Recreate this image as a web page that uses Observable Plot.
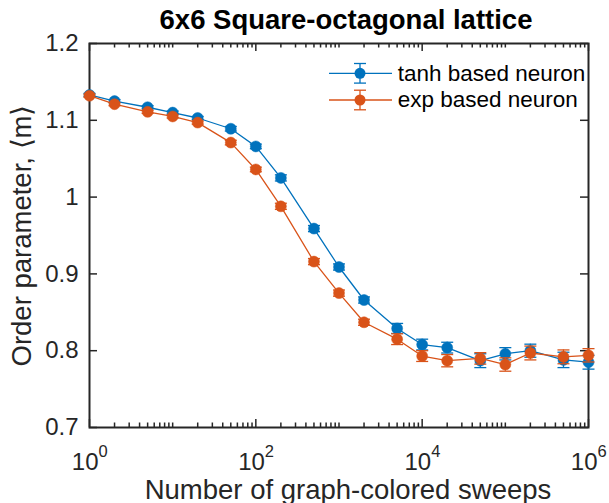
<!DOCTYPE html>
<html>
<head>
<meta charset="utf-8">
<script src="https://cdn.jsdelivr.net/npm/d3@7"></script>
<script src="https://cdn.jsdelivr.net/npm/@observablehq/plot@0.6"></script>
<style>
  body { margin: 0; background: #fff; font-family: "Liberation Sans", Arial, sans-serif; }
  #wrap { position: relative; width: 609px; height: 503px; overflow: hidden; }
  #wrap > svg { position: absolute; left: 0; top: 0; }
</style>
</head>
<body>
<div id="wrap"></div>
<script>
// ---------------- data ----------------
const sweeps = [1, 2, 5, 10, 20, 50, 100, 200, 500, 1000, 2000, 5000, 1e4, 2e4, 5e4, 1e5, 2e5, 5e5, 1e6];
const tanhM   = [1.133, 1.125, 1.117, 1.110, 1.103, 1.089, 1.066, 1.025, 0.959, 0.909, 0.866, 0.829, 0.808, 0.804, 0.787, 0.796, 0.800, 0.788, 0.785];
const tanhErr = [0.002, 0.002, 0.002, 0.002, 0.002, 0.003, 0.003, 0.004, 0.004, 0.004, 0.004, 0.0065, 0.007, 0.007, 0.009, 0.008, 0.0085, 0.010, 0.009];
const expM    = [1.132, 1.121, 1.111, 1.105, 1.097, 1.071, 1.036, 0.988, 0.916, 0.875, 0.837, 0.815, 0.793, 0.787, 0.790, 0.782, 0.797, 0.792, 0.794];
const expErr  = [0.002, 0.002, 0.002, 0.002, 0.002, 0.003, 0.003, 0.004, 0.004, 0.004, 0.004, 0.007, 0.007, 0.008, 0.0075, 0.0087, 0.009, 0.009, 0.0087];
const seriesNames = ["tanh based neuron", "exp based neuron"];
const colors = ["#0072BD", "#D95319"];
const yTicks = [0.7, 0.8, 0.9, 1.0, 1.1, 1.2];
const xTickExps = [0, 2, 4, 6];
const titleText = "6x6 Square-octagonal lattice";
const xLabel = "Number of graph-colored sweeps";
const yLabel = "Order parameter, \u27E8m\u27E9";

// ---------------- layout ----------------
const W = 609, H = 503;
const mL = 89, mR = 21, mT = 43, mB = 76;
const fw = W - mL - mR, fh = H - mT - mB;
const axisColor = "#262626";
const font = "'Liberation Sans', Arial, sans-serif";

const majorX = xTickExps.map(e => 10 ** e);
const minorX = d3.range(0, 6).flatMap(k => d3.range(1, 10).map(m => m * 10 ** k))
  .filter(v => v > 1 && !majorX.includes(v));

const cap = { draw(ctx, size) { const w = Math.sqrt(size / Math.PI); ctx.moveTo(-w, 0); ctx.lineTo(w, 0); } };

const series = seriesNames.map((name, i) => ({
  name, color: colors[i],
  rows: sweeps.map((s, j) => ({ s, m: [tanhM, expM][i][j], e: [tanhErr, expErr][i][j] }))
}));

const tk = { stroke: axisColor, strokeWidth: 1.5 };
const marks = [
  Plot.frame({ stroke: axisColor, strokeWidth: 2 }),
  Plot.ruleX(minorX, { x: d => d, insetTop: fh - 4.5, ...tk }),
  Plot.ruleX(minorX, { x: d => d, insetBottom: fh - 4.5, ...tk }),
  Plot.ruleX(majorX, { x: d => d, insetTop: fh - 8, ...tk }),
  Plot.ruleX(majorX, { x: d => d, insetBottom: fh - 8, ...tk }),
  Plot.ruleY(yTicks, { y: d => d, insetRight: fw - 8, ...tk }),
  Plot.ruleY(yTicks, { y: d => d, insetLeft: fw - 8, ...tk }),
  Plot.axisY(yTicks, { anchor: "left", tickSize: 0, tickPadding: 11, fontSize: 24, label: null,
    tickFormat: d => String(+d.toFixed(1)), fill: axisColor }),
  Plot.text(xTickExps, { x: e => 10 ** e, text: () => "10", frameAnchor: "bottom", dy: 42, dx: 9,
    textAnchor: "end", lineAnchor: "bottom", fontSize: 24, fill: axisColor }),
  Plot.text(xTickExps, { x: e => 10 ** e, text: e => String(e), frameAnchor: "bottom", dy: 29, dx: 9,
    textAnchor: "start", lineAnchor: "bottom", fontSize: 16.5, fill: axisColor }),
  Plot.text([xLabel], { text: d => d, frameAnchor: "bottom", dx: 9, dy: 71, lineAnchor: "bottom",
    textAnchor: "middle", fontSize: 27.5, fill: axisColor }),
  Plot.text([yLabel], { text: d => d, frameAnchor: "left", dx: -59, rotate: -90, lineAnchor: "bottom",
    textAnchor: "middle", fontSize: 27.5, fill: axisColor }),
  Plot.text([titleText], { text: d => d, frameAnchor: "top", dx: 7, dy: -15, lineAnchor: "bottom",
    textAnchor: "middle", fontSize: 27.5, fontWeight: "bold", fill: "#000" })
];

for (const S of series) {
  marks.push(Plot.line(S.rows, { x: "s", y: "m", stroke: S.color, strokeWidth: 1.3 }));
  marks.push(Plot.ruleX(S.rows, { x: "s", y1: d => d.m - d.e, y2: d => d.m + d.e, stroke: S.color, strokeWidth: 1.3 }));
  marks.push(Plot.dot(S.rows, { x: "s", y: d => d.m - d.e, symbol: cap, r: 6, stroke: S.color, fill: "none", strokeWidth: 1.3 }));
  marks.push(Plot.dot(S.rows, { x: "s", y: d => d.m + d.e, symbol: cap, r: 6, stroke: S.color, fill: "none", strokeWidth: 1.3 }));
  marks.push(Plot.dot(S.rows, { x: "s", y: "m", r: 5.5, fill: S.color, stroke: S.color, strokeWidth: 0.5 }));
}

const chart = Plot.plot({
  width: W, height: H,
  marginLeft: mL, marginRight: mR, marginTop: mT, marginBottom: mB,
  style: { fontFamily: font, background: "#fff", color: axisColor, overflow: "visible" },
  x: { type: "log", domain: [1, 1e6], axis: null },
  y: { domain: [0.7, 1.2], axis: null },
  marks
});
document.getElementById("wrap").appendChild(chart);

// ---------------- legend ----------------
const leg = d3.select("#wrap").append("svg")
  .attr("width", 300).attr("height", 70)
  .style("left", "300px").style("top", "50px")
  .style("font-family", font);
const legY = [23.3, 50];
series.forEach((S, i) => {
  const cy = legY[i];
  const g = leg.append("g").attr("stroke", S.color).attr("stroke-width", 1.3).attr("fill", "none");
  g.append("line").attr("x1", 29).attr("x2", 92).attr("y1", cy).attr("y2", cy);
  g.append("line").attr("x1", 60).attr("x2", 60).attr("y1", cy - 9.8).attr("y2", cy + 9.8);
  g.append("line").attr("x1", 54).attr("x2", 66).attr("y1", cy - 9.8).attr("y2", cy - 9.8);
  g.append("line").attr("x1", 54).attr("x2", 66).attr("y1", cy + 9.8).attr("y2", cy + 9.8);
  leg.append("circle").attr("cx", 60).attr("cy", cy).attr("r", 5.5).attr("fill", S.color);
  leg.append("text").attr("x", 97.7).attr("y", cy + 7.4).attr("font-size", 22.5).attr("fill", "#000").text(S.name);
});
</script>
</body>
</html>
